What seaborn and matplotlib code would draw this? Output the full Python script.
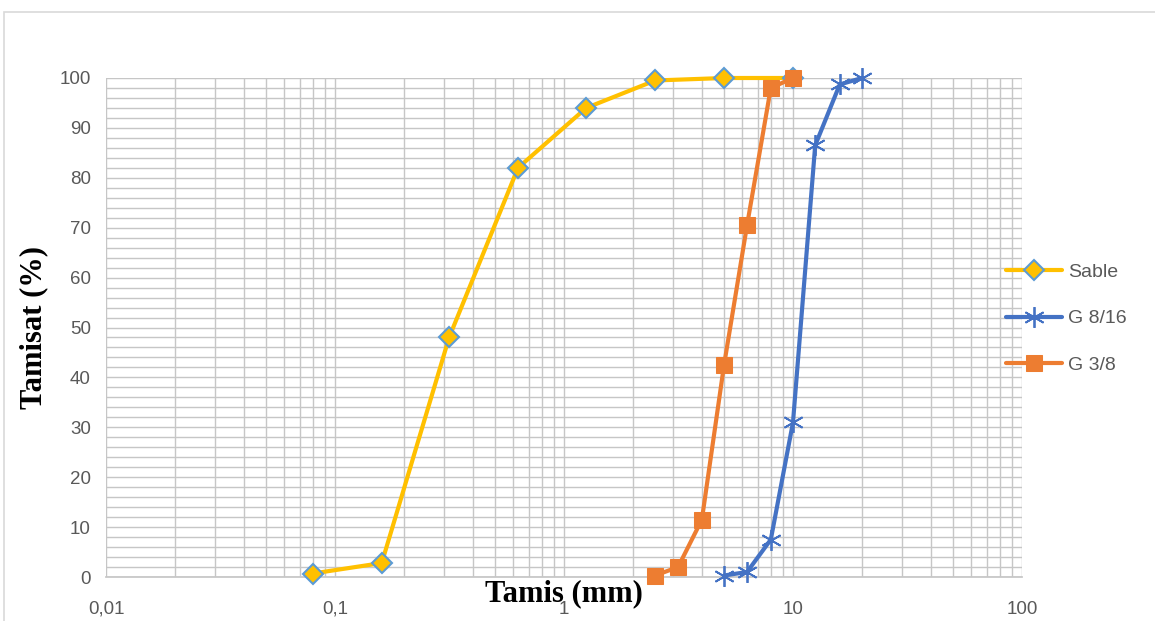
import matplotlib
matplotlib.use("Agg")
import matplotlib.pyplot as plt
import matplotlib.ticker as mticker
from matplotlib.patches import Rectangle
import seaborn as sns
import pandas as pd

# ---- data ----
sable_x = [0.08, 0.16, 0.315, 0.63, 1.25, 2.5, 5, 10]
sable_y = [0.7, 2.8, 48, 82, 94, 99.5, 100, 100]
g816_x = [5, 6.3, 8, 10, 12.5, 16, 20]
g816_y = [0.3, 1, 7.5, 31, 86.5, 98.7, 100]
g38_x = [2.5, 3.15, 4, 5, 6.3, 8, 10]
g38_y = [0.3, 2, 11.5, 42.5, 70.5, 98, 100]
x_ticks = [0.01, 0.1, 1, 10, 100]
x_tick_labels = ["0,01", "0,1", "1", "10", "100"]
y_ticks = list(range(0, 101, 10))

sns.set_theme(style="white")
plt.rcParams['font.family'] = ['Liberation Sans', 'DejaVu Sans']

fig = plt.figure(figsize=(11.55, 6.21), dpi=100)
fig.patches.append(Rectangle((4 / 1155, -0.1), 1.2, (621 - 12) / 621 + 0.1,
                             transform=fig.transFigure, fill=False,
                             edgecolor="#D9D9D9", linewidth=1.2))
ax = fig.add_axes([106 / 1155, (621 - 577) / 621, (1022 - 106) / 1155, (577 - 78) / 621])

grey = "#C6C6C6"
ax.set_xscale("log")
ax.set_xlim(0.01, 100)
ax.set_ylim(0, 100)
ax.xaxis.set_major_locator(mticker.FixedLocator(x_ticks))
ax.xaxis.set_major_formatter(mticker.FixedFormatter(x_tick_labels))
ax.xaxis.set_minor_locator(mticker.LogLocator(base=10, subs=range(2, 10)))
ax.xaxis.set_minor_formatter(mticker.NullFormatter())
ax.yaxis.set_major_locator(mticker.FixedLocator(y_ticks))
ax.yaxis.set_minor_locator(mticker.MultipleLocator(2))
ax.grid(True, which="both", color=grey, linewidth=1.0)
ax.set_axisbelow(True)
for s in ["top", "right", "left"]:
    ax.spines[s].set_visible(False)
ax.spines["bottom"].set_color(grey)
ax.tick_params(axis="both", which="major", colors=grey, labelcolor="#595959",
               labelsize=13.5, length=7, width=1, direction="out", pad=10)
ax.tick_params(axis="both", which="minor", length=0)
ax.tick_params(axis="y", pad=4)

df_s = pd.DataFrame({"x": sable_x, "y": sable_y})
df_g = pd.DataFrame({"x": g816_x, "y": g816_y})
df_o = pd.DataFrame({"x": g38_x, "y": g38_y})

sns.lineplot(data=df_s, x="x", y="y", ax=ax, sort=False, estimator=None,
             color="#FFC000", linewidth=3, marker="D", markersize=10,
             markerfacecolor="#FFC000", markeredgecolor="#5B9BD5",
             markeredgewidth=1.5, label="Sable", clip_on=False, zorder=3)
sns.lineplot(data=df_g, x="x", y="y", ax=ax, sort=False, estimator=None,
             color="#4472C4", linewidth=3, marker=(6, 2, 0), markersize=15,
             markeredgecolor="#4472C4", markeredgewidth=1.3,
             label="G 8/16", clip_on=False, zorder=4)
sns.lineplot(data=df_o, x="x", y="y", ax=ax, sort=False, estimator=None,
             color="#ED7D31", linewidth=3, marker="s", markersize=12,
             markerfacecolor="#ED7D31", markeredgecolor="#ED7D31",
             label="G 3/8", clip_on=False, zorder=5)

ax.set_xlabel("Tamis (mm)", family=["Liberation Serif"], fontsize=22,
              fontweight="bold", color="black", labelpad=-28)
ax.set_ylabel("Tamisat (%)", family=["Liberation Serif"], fontsize=22,
              fontweight="bold", color="black", labelpad=8)

leg = ax.legend(loc="center left", bbox_to_anchor=((1006 - 106) / 916, 0.518),
                frameon=False, fontsize=14, labelspacing=1.5,
                handlelength=2.9, handletextpad=0.3, borderaxespad=0,
                borderpad=0)
for t in leg.get_texts():
    t.set_color("#595959")

fig.savefig("out.png", dpi=100)
